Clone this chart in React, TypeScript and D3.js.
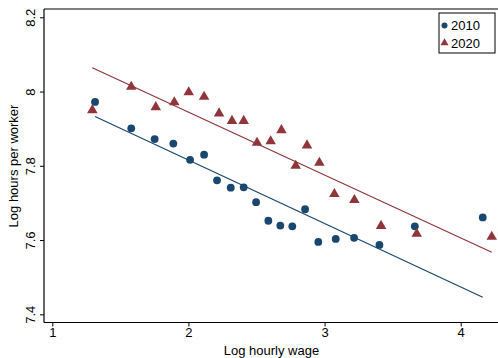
import React, { useEffect, useRef } from "react";
import * as d3 from "d3";

// binned scatter, log wage vs log hours
const wage2010 = [1.314, 1.58, 1.752, 1.889, 2.012, 2.115, 2.21, 2.311, 2.406, 2.497, 2.587, 2.675, 2.763, 2.857, 2.954, 3.082, 3.217, 3.403, 3.663, 4.162];
const hours2010 = [7.972, 7.901, 7.872, 7.86, 7.816, 7.83, 7.761, 7.741, 7.742, 7.702, 7.652, 7.639, 7.637, 7.683, 7.595, 7.603, 7.606, 7.587, 7.637, 7.661];
const wage2020 = [1.294, 1.58, 1.76, 1.896, 2.002, 2.115, 2.225, 2.32, 2.406, 2.504, 2.604, 2.683, 2.788, 2.871, 2.962, 3.072, 3.219, 3.415, 3.677, 4.228];
const hours2020 = [7.95, 8.013, 7.958, 7.971, 7.998, 7.986, 7.941, 7.921, 7.921, 7.862, 7.866, 7.896, 7.8, 7.855, 7.808, 7.724, 7.708, 7.638, 7.617, 7.609];

// fitted lines (intercept, slope)
const fitIntercept = [8.1576, 8.2832];
const fitSlope = [-0.171, -0.1694];

const seriesNames = ["2010", "2020"];
const colors = ["#1a476f", "#90353b"];
const xTicks = [1, 2, 3, 4];
const yTicks = [7.4, 7.6, 7.8, 8, 8.2];

export default function App() {
  const ref = useRef<SVGSVGElement>(null);

  useEffect(() => {
    const W = 498, H = 358;
    const svg = d3.select(ref.current);
    svg.selectAll("*").remove();
    const font = "'Liberation Sans', Arial, Helvetica, sans-serif";
    const fs = 13;

    const x = d3.scaleLinear().domain([1, 4]).range([52.3, 460.7]);
    const y = d3.scaleLinear().domain([7.4, 8.2]).range([314.3, 17.3]);
    const left = 44, top = 9, bottom = 322.5;

    svg.append("rect").attr("width", W).attr("height", H).attr("fill", "#fff");

    // frame lines (no right border)
    svg.append("line").attr("x1", left).attr("x2", W).attr("y1", top).attr("y2", top)
      .attr("stroke", "#000").attr("stroke-width", 1.2);
    svg.append("line").attr("x1", left).attr("x2", W).attr("y1", bottom).attr("y2", bottom)
      .attr("stroke", "#000").attr("stroke-width", 1.2);
    svg.append("line").attr("x1", left).attr("x2", left).attr("y1", top).attr("y2", bottom)
      .attr("stroke", "#000").attr("stroke-width", 1.2);

    // x axis
    const xAxis = svg.append("g").attr("transform", `translate(0,${bottom})`)
      .call(d3.axisBottom(x).tickValues(xTicks).tickSize(4).tickSizeOuter(0).tickFormat(d3.format("d")));
    xAxis.select(".domain").remove();
    xAxis.selectAll("line").attr("stroke", "#000").attr("stroke-width", 1);
    xAxis.selectAll("text").attr("font-family", font).attr("font-size", fs).attr("fill", "#000").attr("dy", "0.6em");

    // y axis with rotated labels
    const yAxis = svg.append("g").attr("transform", `translate(${left},0)`)
      .call(d3.axisLeft(y).tickValues(yTicks).tickSize(4).tickSizeOuter(0).tickFormat(d3.format("~g")));
    yAxis.select(".domain").remove();
    yAxis.selectAll("line").attr("stroke", "#000").attr("stroke-width", 1);
    yAxis.selectAll("text")
      .attr("font-family", font).attr("font-size", fs).attr("fill", "#000")
      .attr("x", null).attr("dy", null)
      .attr("text-anchor", "middle")
      .attr("transform", "translate(-9,0) rotate(-90)");

    svg.append("text").attr("x", 271.5).attr("y", 355).attr("text-anchor", "middle")
      .attr("font-family", font).attr("font-size", fs).text("Log hourly wage");
    svg.append("text").attr("transform", "translate(18,166) rotate(-90)").attr("text-anchor", "middle")
      .attr("font-family", font).attr("font-size", fs).text("Log hours per worker");

    const wages = [wage2010, wage2020];

    // fit lines
    [0, 1].forEach(i => {
      const [lo, hi] = d3.extent(wages[i]) as [number, number];
      svg.append("line")
        .attr("x1", x(lo)).attr("y1", y(fitIntercept[i] + fitSlope[i] * lo))
        .attr("x2", x(hi)).attr("y2", y(fitIntercept[i] + fitSlope[i] * hi))
        .attr("stroke", colors[i]).attr("stroke-width", 1.2);
    });

    const tri = d3.symbol().type(d3.symbolTriangle).size(48);

    // 2010 circles
    svg.append("g").selectAll("circle").data(d3.range(wage2010.length)).join("circle")
      .attr("cx", i => x(wage2010[i])).attr("cy", i => y(hours2010[i]))
      .attr("r", 3.9).attr("fill", colors[0]);

    // 2020 triangles
    svg.append("g").selectAll("path").data(d3.range(wage2020.length)).join("path")
      .attr("d", tri)
      .attr("transform", i => `translate(${x(wage2020[i])},${y(hours2020[i])})`)
      .attr("fill", colors[1]);

    // legend
    const lg = svg.append("g");
    lg.append("rect").attr("x", 439).attr("y", 13).attr("width", 56).attr("height", 40)
      .attr("fill", "#fff").attr("stroke", "#000").attr("stroke-width", 1);
    seriesNames.forEach((name, i) => {
      const cy = 25.5 + i * 17.5;
      if (i === 0) {
        lg.append("circle").attr("cx", 444.5).attr("cy", cy).attr("r", 3).attr("fill", colors[0]);
      } else {
        lg.append("path").attr("d", d3.symbol().type(d3.symbolTriangle).size(28)())
          .attr("transform", `translate(444.5,${cy})`).attr("fill", colors[1]);
      }
      lg.append("text").attr("x", 451).attr("y", cy + 4.5)
        .attr("font-family", font).attr("font-size", fs).text(name);
    });
  }, []);

  return (
    <svg ref={ref} width={498} height={358}
      style={{ position: "absolute", left: 0, top: 0, display: "block" }} />
  );
}
